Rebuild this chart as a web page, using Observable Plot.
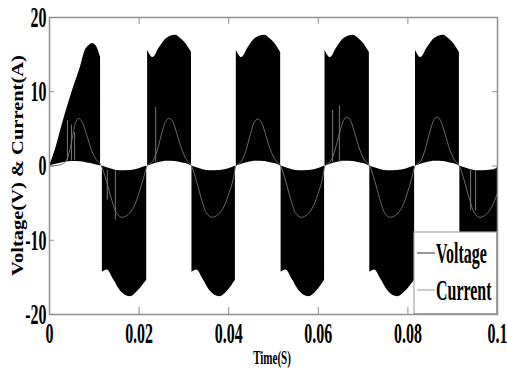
<!DOCTYPE html>
<html><head><meta charset="utf-8">
<script src="https://cdn.jsdelivr.net/npm/d3@7"></script>
<script src="https://cdn.jsdelivr.net/npm/@observablehq/plot@0.6"></script>
<style>
html,body{margin:0;padding:0;background:#fff;}
#chart{width:507px;height:374px;overflow:hidden;}
</style></head><body><div id="chart"></div>
<script>
const xTicks = [0, 0.02, 0.04, 0.06, 0.08, 0.1];
const yTicks = [-20, -10, 0, 10, 20];
const seriesNames = ["Voltage", "Current"];
const xTitle = "Time(S)";
const yTitle = "Voltage(V) & Current(A)";

const voltBlock = [
  1,1,1,1,1,1,1,1,1,1,
  2,2,2,2,2,2,2,
  3,3,3,3,3,3,3,3,
  4,4,4,4,4,4,4,
  5,5,5,5,5,5,5,5,
  6,6,6,6,6,6,6,
  7,7,7,7,7,7,7,7,
  8,8,8,8,8,8,8,
  9,9,9,9,9,9,9,9,
  10,10,10,10,10,10,10
];
const voltT = [
  0, 0.0010, 0.0030, 0.0050, 0.0069, 0.0080, 0.0088, 0.0096, 0.0105, 0.0114,
  0.0118, 0.0129, 0.0143, 0.0158, 0.0180, 0.0198, 0.0217,
  0.0219, 0.0231, 0.0245, 0.0262, 0.0281, 0.0294, 0.0304, 0.0317,
  0.0318, 0.0329, 0.0343, 0.0358, 0.0380, 0.0398, 0.0415,
  0.0417, 0.0429, 0.0443, 0.0460, 0.0480, 0.0493, 0.0503, 0.0516,
  0.0517, 0.0528, 0.0542, 0.0557, 0.0579, 0.0597, 0.0614,
  0.0615, 0.0627, 0.0641, 0.0658, 0.0678, 0.0691, 0.0701, 0.0714,
  0.0715, 0.0726, 0.0740, 0.0755, 0.0777, 0.0796, 0.0815,
  0.0817, 0.0829, 0.0843, 0.0860, 0.0879, 0.0892, 0.0902, 0.0915,
  0.0916, 0.0927, 0.0941, 0.0956, 0.0978, 0.0996, 0.1
];
const voltOuter = [
  0, 1.6, 5.9, 9.9, 13.3, 15.6, 16.2, 16.5, 16.1, 14.6,
  -14.3, -14.0, -15.3, -16.8, -17.6, -16.8, -15.4,
  15.6, 14.6, 15.9, 17.2, 17.6, 17.1, 16.5, 15.3,
  -14.3, -14.0, -15.3, -16.8, -17.6, -16.8, -15.4,
  15.6, 14.6, 15.9, 17.2, 17.6, 17.1, 16.5, 15.3,
  -14.3, -14.0, -15.3, -16.8, -17.6, -16.8, -15.4,
  15.6, 14.6, 15.9, 17.2, 17.6, 17.1, 16.5, 15.3,
  -14.3, -14.0, -15.3, -16.8, -17.6, -16.8, -15.4,
  15.6, 14.6, 15.9, 17.2, 17.6, 17.1, 16.5, 15.3,
  -14.3, -14.0, -15.3, -16.8, -17.6, -16.8, -16.4
];
const voltInner = [
  0, 0.17, 0.45, 0.6, 0.57, 0.47, 0.36, 0.27, 0.14, 0,
  0, -0.25, -0.5, -0.63, -0.6, -0.4, 0,
  0, 0.25, 0.47, 0.63, 0.6, 0.45, 0.32, 0,
  0, -0.25, -0.5, -0.63, -0.6, -0.4, 0,
  0, 0.25, 0.47, 0.63, 0.6, 0.45, 0.32, 0,
  0, -0.25, -0.5, -0.63, -0.6, -0.4, 0,
  0, 0.25, 0.47, 0.63, 0.6, 0.45, 0.32, 0,
  0, -0.25, -0.5, -0.63, -0.6, -0.4, 0,
  0, 0.25, 0.47, 0.63, 0.6, 0.45, 0.32, 0,
  0, -0.25, -0.5, -0.63, -0.6, -0.4, -0.2
];

const currentT = [
  0, 0.0020, 0.0032, 0.0040, 0.0050, 0.0058, 0.0065, 0.0073, 0.0085, 0.0094, 0.0104,
  0.0116, 0.0127, 0.0138, 0.0149, 0.0162, 0.0176, 0.0189, 0.0200, 0.0209,
  0.0218, 0.0230, 0.0240, 0.0251, 0.0259, 0.0267, 0.0275, 0.0285, 0.0295, 0.0305,
  0.0317, 0.0328, 0.0339, 0.0350, 0.0363, 0.0377, 0.0390, 0.0401, 0.0410,
  0.0416, 0.0428, 0.0438, 0.0449, 0.0457, 0.0465, 0.0473, 0.0483, 0.0493, 0.0503,
  0.0516, 0.0527, 0.0538, 0.0549, 0.0562, 0.0576, 0.0589, 0.0600, 0.0609,
  0.0615, 0.0627, 0.0637, 0.0648, 0.0656, 0.0664, 0.0672, 0.0682, 0.0692, 0.0702,
  0.0715, 0.0726, 0.0737, 0.0748, 0.0761, 0.0775, 0.0788, 0.0799, 0.0808,
  0.0816, 0.0828, 0.0838, 0.0849, 0.0857, 0.0865, 0.0873, 0.0883, 0.0893, 0.0903,
  0.0915, 0.0926, 0.0937, 0.0948, 0.0961, 0.0975, 0.0988, 0.0999
];
const currentA = [
  0, 0.1, 0.4, 1.0, 3.5, 5.8, 6.4, 5.9, 3.8, 2.1, 0.9,
  0, -2.0, -4.4, -6.3, -6.9, -6.5, -5.4, -3.6, -1.8,
  0, 0.6, 2.0, 4.5, 6.0, 6.4, 6.0, 4.2, 2.3, 0.9,
  0, -2.0, -4.4, -6.3, -6.9, -6.5, -5.4, -3.6, -1.8,
  0, 0.6, 2.0, 4.4, 5.9, 6.3, 5.9, 4.1, 2.2, 0.9,
  0, -2.0, -4.4, -6.3, -6.9, -6.5, -5.4, -3.6, -1.8,
  0, 0.6, 2.1, 4.6, 6.1, 6.6, 6.1, 4.3, 2.3, 0.9,
  0, -2.0, -4.4, -6.3, -6.9, -6.5, -5.4, -3.6, -1.8,
  0, 0.6, 2.1, 4.6, 6.1, 6.6, 6.1, 4.3, 2.3, 0.9,
  0, -2.0, -4.4, -6.3, -6.9, -6.5, -5.4, -3.8
];

const spikeT = [0.0040, 0.0049, 0.0056, 0.0129, 0.0147, 0.0237, 0.0632, 0.0647, 0.0940, 0.0951];
const spikeTop = [6.1, 5.5, 4.5, -0.6, -0.6, 7.9, 7.5, 8.1, -0.6, -0.6];
const spikeBottom = [0.7, 0.7, 0.7, -4.6, -7.3, 0.4, 0.5, 0.5, -6.0, -6.0];

const volt = voltT.map((t, i) => ({t, outer: voltOuter[i], inner: voltInner[i], block: voltBlock[i]}));
const current = currentT.map((t, i) => ({t, i: currentA[i]}));
const spikes = spikeT.map((t, k) => ({t, top: spikeTop[k], bottom: spikeBottom[k]}));

const W = 507, H = 374, mL = 49, mR = 10, mT = 17, mB = 60;
const innerW = W - mL - mR, innerH = H - mT - mB;
const FONT = "'Liberation Serif', 'Times New Roman', serif";
const axisGrey = "#8f8f8f";
const currentColor = "#5f7166";

const chart = Plot.plot({
  width: W, height: H,
  marginLeft: mL, marginRight: mR, marginTop: mT, marginBottom: mB,
  x: {domain: [0, 0.1]},
  y: {domain: [-20, 20]},
  style: {fontFamily: FONT, fontSize: "29px", fontWeight: "bold", color: "black", background: "white", overflow: "visible"},
  marks: [
    Plot.areaY(volt, {x: "t", y1: "inner", y2: "outer", z: "block", fill: "black", curve: "monotone-x"}),
    Plot.line(current, {x: "t", y: "i", stroke: currentColor, strokeWidth: 1, curve: "monotone-x"}),
    Plot.ruleX(spikes, {x: "t", y1: "bottom", y2: "top", stroke: "#6c7c72", strokeWidth: 1}),
    Plot.frame({stroke: axisGrey, strokeWidth: 1.5}),
    Plot.ruleX(xTicks, {insetTop: innerH - 7, stroke: axisGrey}),
    Plot.ruleX(xTicks, {insetBottom: innerH - 7, stroke: axisGrey}),
    Plot.ruleY(yTicks, {insetRight: innerW - 5, stroke: axisGrey}),
    Plot.ruleY(yTicks, {insetLeft: innerW - 5, stroke: axisGrey}),
    Plot.axisX(xTicks, {tickSize: 0, tickPadding: 8, tickFormat: d => String(d), label: null}),
    Plot.axisY(yTicks, {tickSize: 0, tickPadding: 3, tickFormat: d => String(d), label: null})
  ]
});

// condense tick labels horizontally (keep Plot's own em offsets)
chart.querySelectorAll("text").forEach(t => {
  const tr = t.getAttribute("transform") || "";
  const xa = t.getAttribute("x");
  if (xa && !isNaN(+xa) && +xa !== 0) t.setAttribute("x", +xa / 0.55);
  t.setAttribute("transform", `${tr} scale(0.55,1)`);
});

const svg = d3.select(chart);
svg.append("text")
  .attr("transform", `translate(17,${mT + innerH / 2}) rotate(-90) scale(1,0.85)`)
  .attr("text-anchor", "middle").attr("dy", "0.35em")
  .style("font-family", FONT).style("font-weight", "bold").style("font-size", "20.5px")
  .attr("fill", "black").text(yTitle);
svg.append("text")
  .attr("transform", `translate(${mL + innerW / 2 - 1},364) scale(0.58,1)`)
  .attr("text-anchor", "middle")
  .style("font-family", FONT).style("font-weight", "bold").style("font-size", "19px")
  .attr("fill", "black").text(xTitle);

const lgW = 83, lgH = 82;
const lx = mL + innerW - lgW, ly = mT + innerH - lgH;
const lg = svg.append("g");
lg.append("rect").attr("x", lx).attr("y", ly).attr("width", lgW).attr("height", lgH)
  .attr("fill", "white").attr("stroke", "#a8a8a8").attr("stroke-width", 1.2);
const legendColors = ["#555555", "#aaaaaa"];
const legendRows = [21, 58];
seriesNames.forEach((name, k) => {
  lg.append("line").attr("x1", lx + 3).attr("x2", lx + 21)
    .attr("y1", ly + legendRows[k]).attr("y2", ly + legendRows[k])
    .attr("stroke", legendColors[k]).attr("stroke-width", 1.2);
  lg.append("text")
    .attr("transform", `translate(${lx + 22},${ly + legendRows[k] + 10}) scale(0.55,1)`)
    .attr("text-anchor", "start")
    .style("font-family", FONT).style("font-weight", "bold").style("font-size", "29px")
    .attr("fill", "black").text(name);
});
lg.append("line").attr("x1", mL + innerW).attr("x2", mL + innerW).attr("y1", ly).attr("y2", mT + innerH)
  .attr("stroke", axisGrey).attr("stroke-width", 1.5);
lg.append("line").attr("x1", lx).attr("x2", mL + innerW).attr("y1", mT + innerH).attr("y2", mT + innerH)
  .attr("stroke", axisGrey).attr("stroke-width", 1.5);

document.getElementById("chart").appendChild(chart);
</script>
</body></html>
